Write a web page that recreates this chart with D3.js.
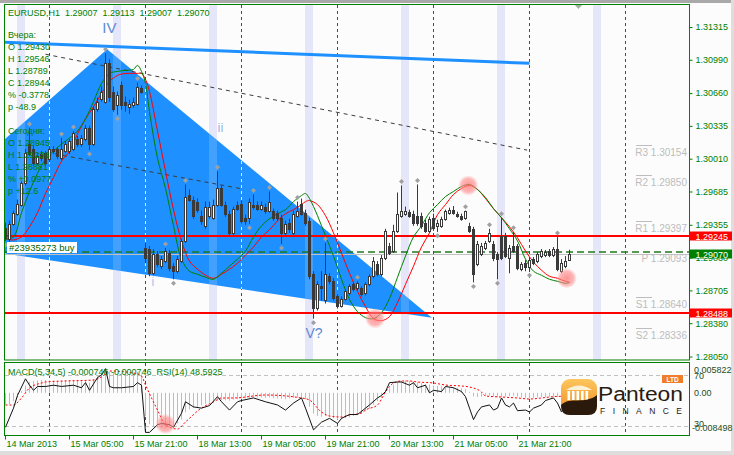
<!DOCTYPE html>
<html><head><meta charset="utf-8">
<script src="https://cdn.jsdelivr.net/npm/d3@7/dist/d3.min.js"></script>
<style>
html,body{margin:0;padding:0;background:#fcfcfc;}
svg{display:block;}
text{font-family:"Liberation Sans",Arial,sans-serif;}
</style></head><body>
<svg id="chart" width="734" height="455"></svg>
<script>
// ---------------- DATA ----------------
const opens=[1.2933,1.2922,1.2937,1.2947,1.2956,1.2977,1.3016,1.3011,1.2997,1.3006,
1.3007,1.3001,1.3011,1.3011,1.3002,1.3009,1.3009,1.3011,1.3021,1.3016,
1.3021,1.3032,1.3016,1.3051,1.3061,1.3058,1.3096,1.3068,1.3055,1.3075,
1.3058,1.3053,1.3055,1.3056,1.3072,1.2913,1.2912,1.2888,1.2907,1.2895,
1.2900,1.2908,1.2895,1.2890,1.2900,1.2920,1.2966,1.2961,1.2959,1.2945,
1.2935,1.2945,1.2943,1.2956,1.2972,1.2956,1.2947,1.2928,1.2956,1.2957,
1.2943,1.2943,1.2956,1.2956,1.2952,1.2954,1.2950,1.2950,1.2948,1.2943,
1.2928,1.2938,1.2928,1.2945,1.2957,1.2948,1.2940,1.2887,1.2854,1.2875,
1.2861,1.2885,1.2880,1.2865,1.2856,1.2862,1.2868,1.2877,1.2873,1.2873,
1.2868,1.2877,1.2885,1.2897,1.2887,1.2903,1.2915,1.2910,1.2930,1.2945,
1.2947,1.2949,1.2947,1.2945,1.2945,1.2938,1.2930,1.29430,1.2935,1.2935,
1.2942,1.2948,1.2951,1.2947,1.2945,1.2943,1.2935,1.2932,1.2897,1.2907,
1.2913,1.2920,1.2917,1.2907,1.2925,1.2925,1.2903,1.2915,1.2915,1.2892,
1.2898,1.28945,1.2902,1.2900,1.2905,1.2906,1.2910,1.2906,1.2912,1.2890,
1.2895,1.29007];
const highs=[1.2938,1.2940,1.2950,1.2961,1.2979,1.3011,1.3032,1.3014,1.3007,1.3009,
1.3009,1.3014,1.3014,1.3013,1.3022,1.3019,1.3021,1.3029,1.3024,1.3025,
1.3035,1.3034,1.3053,1.3062,1.3073,1.3106,1.3100,1.3073,1.3068,1.3078,
1.3063,1.3060,1.3062,1.3077,1.3074,1.2918,1.2915,1.2912,1.2910,1.2905,
1.2913,1.2911,1.2898,1.2905,1.2922,1.2976,1.2971,1.2964,1.2962,1.2950,
1.2959,1.2959,1.2961,1.2989,1.2975,1.2959,1.2950,1.2954,1.2959,1.2960,
1.2946,1.2962,1.2966,1.2959,1.2959,1.2957,1.2969,1.2952,1.2950,1.2946,
1.2940,1.2942,1.2950,1.2959,1.2962,1.2951,1.2943,1.2890,1.2880,1.2890,
1.2918,1.2888,1.2883,1.2868,1.2865,1.2872,1.2877,1.2879,1.2880,1.2875,
1.2879,1.2887,1.2904,1.2900,1.2906,1.2932,1.2918,1.2936,1.2968,1.2975,
1.2954,1.2951,1.2950,1.2976,1.2948,1.2941,1.2944,1.2947,1.2941,1.2944,
1.2951,1.2953,1.29546,1.2949,1.2947,1.2950,1.2938,1.2934,1.2920,1.2918,
1.2920,1.2932,1.2920,1.2909,1.2943,1.2928,1.2916,1.2929,1.2917,1.2899,
1.2901,1.2904,1.2904,1.2909,1.2912,1.2911,1.2912,1.2914,1.29238,1.2902,
1.2905,1.29113];
const lows=[1.2920,1.2919,1.2935,1.2945,1.2954,1.2975,1.3004,1.2994,1.2995,1.2999,
1.2994,1.2998,1.3006,1.3001,1.3000,1.3007,1.3006,1.3009,1.3013,1.3013,
1.3019,1.3010,1.3014,1.3048,1.3058,1.3056,1.3058,1.3048,1.3045,1.3050,
1.3048,1.3046,1.3052,1.3054,1.3066,1.2898,1.2885,1.2886,1.2894,1.2892,
1.2898,1.2890,1.2882,1.2888,1.2898,1.2918,1.2959,1.2942,1.2948,1.2936,
1.2932,1.2942,1.2941,1.2954,1.2954,1.2944,1.2925,1.2925,1.2950,1.2937,
1.2936,1.2937,1.2951,1.2950,1.2950,1.2947,1.2948,1.2940,1.2940,1.2917,
1.2925,1.2928,1.2926,1.2943,1.2945,1.2935,1.2882,1.2843,1.2851,1.2861,
1.2858,1.2877,1.2861,1.2853,1.2854,1.2861,1.2866,1.2870,1.2871,1.2865,
1.2866,1.2875,1.2883,1.2885,1.2885,1.2901,1.2906,1.2908,1.2928,1.2943,
1.2945,1.2943,1.2935,1.2935,1.2932,1.2928,1.2928,1.2930,1.2929,1.2933,
1.2940,1.2946,1.2946,1.2943,1.2940,1.2941,1.2928,1.28789,1.2895,1.2905,
1.2911,1.2918,1.2900,1.2882,1.2901,1.2903,1.2888,1.2908,1.2891,1.2890,
1.2890,1.2890,1.2896,1.2898,1.2903,1.2904,1.2904,1.2904,1.2890,1.28881,
1.2893,1.29007];
const closes=[1.2923,1.2937,1.2948,1.2957,1.2977,1.3007,1.3006,1.2997,1.3004,1.3002,
1.2997,1.3011,1.3009,1.3004,1.3011,1.3016,1.3019,1.3027,1.3016,1.3022,
1.3032,1.3016,1.3051,1.3058,1.3068,1.3096,1.3063,1.3051,1.3065,1.3055,
1.3055,1.3056,1.3058,1.3073,1.3068,1.2903,1.2888,1.2907,1.2897,1.2902,
1.2910,1.2893,1.2890,1.2902,1.2920,1.2964,1.2961,1.2945,1.2951,1.2940,
1.2954,1.2954,1.2956,1.2972,1.2956,1.2947,1.2928,1.2952,1.2952,1.2940,
1.2940,1.2959,1.2954,1.2952,1.2956,1.2950,1.2959,1.2943,1.2943,1.2928,
1.2937,1.2932,1.2947,1.2950,1.2947,1.2938,1.2885,1.2854,1.2877,1.2873,
1.2887,1.2880,1.2863,1.2856,1.2862,1.2870,1.2875,1.2872,1.2878,1.2867,
1.2877,1.2885,1.2900,1.2887,1.2903,1.2930,1.2908,1.2930,1.2947,1.2950,
1.2950,1.2945,1.2938,1.2938,1.2935,1.2930,1.2942,1.2933,1.2938,1.2942,
1.2950,1.2951,1.2948,1.2945,1.2942,1.2950,1.2930,1.2887,1.2917,1.2915,
1.2918,1.2928,1.2903,1.2902,1.2903,1.2905,1.2913,1.2910,1.2893,1.2897,
1.28944,1.2901,1.2898,1.2907,1.2910,1.2909,1.2906,1.2912,1.2892,1.2898,
1.2900,1.29070];

const upFractals=[6,14,17,25,33,40,45,53,62,66,73,80,88,99,103,115,121,124,127,138];
const downFractals=[0,21,28,42,61,69,77,108,117,123,131];

const maBars=[0,2,4,6,8,10,12,14,16,18,20,22,24,26,28,30,32,33,34,35,36,38,40,42,44,46,48,50,52,54,56,58,60,62,64,66,68,70,72,74,75,76,78,80,82,84,86,88,90,92,94,96,98,100,102,104,106,108,110,112,114,116,118,120,122,124,126,128,130,132,134,136,138,140,141];
const maGreen=[1.2922,1.2924,1.2948,1.2969,1.2987,1.3001,1.3009,1.3016,1.3022,1.3029,1.3041,1.3058,1.3076,1.3086,1.3088,1.3089,1.3090,
1.3094,1.3088,1.3076,
1.3048,1.3002,1.2972,1.2935,1.2902,1.2890,1.2887,1.2884,1.2882,1.2888,1.2895,1.2902,1.2910,1.2924,1.2935,1.2942,1.2947,1.2951,1.2959,1.2965,
1.2967,1.2962,
1.2945,1.2925,1.2905,1.2882,1.2862,1.2850,1.2844,1.2843,1.2849,1.2863,1.2884,1.2905,1.2924,1.2935,1.2948,1.2956,1.2964,1.2969,1.2974,1.2976,1.2971,1.2963,1.2952,1.2943,1.2932,1.2920,1.2902,1.2890,1.2886,1.2882,1.2880,1.2878,
1.2879];
const maRed=[1.2922,1.2921,1.2924,1.2934,1.2948,1.2967,1.2983,1.2999,1.3009,1.3026,1.3041,1.3053,1.3066,1.3078,1.3084,1.3086,1.3086,
1.3086,1.3086,1.3080,
1.3068,1.3029,1.2989,1.2951,1.2920,1.2900,1.2892,1.2886,1.2883,1.2887,1.2892,1.2898,1.2906,1.2914,1.2924,1.2931,1.2940,1.2947,1.2951,1.2956,
1.2959,1.2960,
1.2956,1.2945,1.2928,1.2908,1.2888,1.2870,1.2855,1.2843,1.2841,1.2845,1.2859,1.2877,1.2895,1.2914,1.2928,1.2946,1.2956,1.2966,1.2972,1.2975,1.2971,1.2962,1.2952,1.2943,1.2934,1.2923,1.2910,1.2899,1.2891,1.2885,1.2883,1.2880,
1.2879];

const macdHist=[-0.0026,-0.0024,-0.0018,-0.0010,0.0004,0.0016,0.0024,0.0026,0.0027,0.0028,
0.0028,0.0027,0.0027,0.0026,0.0027,0.0028,0.0027,0.0028,0.0028,0.0027,
0.0028,0.0022,0.0030,0.0036,0.0042,0.0048,0.0046,0.0044,0.0042,0.0043,
0.0042,0.0041,0.0042,0.0045,0.0040,-0.0050,-0.0068,-0.0074,-0.0076,-0.0077,
-0.0076,-0.0074,-0.0073,-0.0066,-0.0058,-0.0042,-0.0036,-0.0033,-0.0030,-0.0027,
-0.0024,-0.0021,-0.0019,-0.0017,-0.0016,-0.0016,-0.0017,-0.0015,-0.0014,-0.0013,
-0.0012,-0.0011,-0.0010,-0.0010,-0.0010,-0.0011,-0.0010,-0.0011,-0.0012,-0.0013,
-0.0014,-0.0012,-0.0011,-0.0010,-0.0011,-0.0014,-0.0030,-0.0045,-0.0050,-0.0052,
-0.0050,-0.0052,-0.0055,-0.0058,-0.0057,-0.0055,-0.0053,-0.0050,-0.0047,-0.0045,
-0.0040,-0.0034,-0.0026,-0.0018,-0.0010,0.0005,0.0010,0.0018,0.0024,0.0026,
0.0027,0.0026,0.0024,0.0023,0.0021,0.0019,0.0018,0.0016,0.0015,0.0014,
0.0013,0.0012,0.0012,0.0011,0.0010,0.0008,0.0002,-0.0008,-0.0009,-0.0008,
-0.0007,-0.0006,-0.0008,-0.0010,-0.0009,-0.0008,-0.0007,-0.0006,-0.0008,-0.0010,
-0.0011,-0.0012,-0.0011,-0.0010,-0.0009,-0.0009,-0.0008,-0.0008,-0.0009,-0.0008,
-0.0008,-0.00075];
const sigBars=[0,2,4,6,9,10,15,22,24,26,32,34,35,38,40,43,45,49,52,54,57,65,74,76,79,81,84,86,89,90,93,95,97,99,101,103,107,110,114,116,119,120,124,128,131,134,136,139,141];
const sigVals=[-0.00264,-0.00264,-0.00112,0.00105,0.00213,0.00235,0.00257,0.00278,0.00343,0.00474,0.00430,0.00365,0.00170,-0.00373,-0.00698,-0.00785,-0.00633,-0.00329,-0.00199,-0.00112,-0.00112,-0.00047,-0.00112,-0.00156,-0.00416,-0.00503,-0.00525,-0.00481,-0.00438,-0.00373,-0.00264,0.00018,0.00213,0.00257,0.00257,0.00235,0.00213,0.00170,0.00148,0.00126,0.00018,-0.00069,-0.00091,-0.00112,-0.00134,-0.00112,-0.00091,-0.00075,-0.000746];
const rsiBars=[0,2,3,5,6,7,8,10,12,14,17,19,20,21,23,24,25,26,27,29,32,33,34,35,36,38,39,41,42,44,45,47,49,51,53,54,56,58,59,62,65,68,70,72,74,75,77,79,81,83,84,86,88,90,91,93,94,95,96,98,99,101,102,103,105,106,107,109,110,112,114,115,116,117,118,119,121,122,123,124,125,126,127,128,130,131,132,134,135,137,138,139,140,141];
const rsiVals=[29,44,54,67,62,58,61,61,62,61,62,60,64,58,68,70,75,61,60,60,61,64,62,25,25,31,32,31,29,40,49,45,44,46,53,49,42.5,49,50,52,49,46.5,42.5,48,52,44,27,33,36,32,36,39,39,44,46.5,52,54,57,64,64.5,64.5,62,64,60,62,56,58,57,61,60,57,53,44,35,41,45,46.5,42.5,44,52,46.5,45,48,42,42.5,41,44,46.5,50,52,48,41,46.5,48.59];

const priceTicks=[1.31315,1.30990,1.30660,1.30335,1.30010,1.29685,1.29355,1.29030,1.28705,1.28380,1.28050];
const dateBars=[0,16,32,48,64,80,96,112,128];
const dateLabels=["14 Mar 2013","15 Mar 05:00","15 Mar 21:00","18 Mar 13:00","19 Mar 05:00","19 Mar 21:00","20 Mar 13:00","21 Mar 05:00","21 Mar 21:00"];
const separatorBars=[11,35,59,83,107,131,155];
const sessionBars=[3,27,51,75,99,123,147];
const pivotNames=["R3","R2","R1","S1","S2"];
const pivotLevels=[1.30154,1.29850,1.29397,1.28640,1.28336];
const pivotP=1.29093;
const redLevels=[1.29245,1.28488];
const bidPrice=1.29070;
const triangleBars=[-27.9,25.4,106.6];
const trianglePrices=[1.2924,1.3110,1.2844];
const blueLineBars=[-1,131];
const blueLinePrices=[1.3117,1.3096];
const dashLine1Bars=[10,130.4], dashLine1Prices=[1.3105,1.3010];
const dashLine2Bars=[12.4,58.6], dashLine2Prices=[1.30062,1.29720];
const circleBars=[115.7,92.4,140.3], circlePrices=[1.2975,1.28433,1.2883];
const rsiCircleBar=40, rsiCircleVal=31.5;
const waveLabels=[{t:"IV",bar:24.2,p:1.3126,s:15,c:"#5d8ad6"},{t:"ii",bar:53,p:1.3028,s:13,c:"#9ab6e6"},{t:"i",bar:36.5,p:1.2875,s:12,c:"#a9c2ea"},{t:"V?",bar:75,p:1.2824,s:14,c:"#5d8ad6"}];
const infoHeader="EURUSD,H1  1.29007  1.29113  1.29007  1.29070";
const infoYesterday=["Вчера:","O 1.29430","H 1.29546","L 1.28789","C 1.28944","% -0.3778","p -48.9"];
const infoToday=["Сегодня:","O 1.28945","H 1.29238","L 1.28881","% +0.0977","p +12.6"];
const orderLabel="#23935273 buy";
const macdTitle="MACD(5,34,5) -0.000746 -0.000746  RSI(14) 48.5925";
const macdMax=0.005822, macdMin=-0.008498;

// ---------------- SCALES ----------------
const svg=d3.select("#chart");
const defs=svg.append("defs");
const GREEN="#008000";
const x=d3.scaleLinear().domain([0,171]).range([5.5,689.5]);
const y=d3.scaleLinear().domain([1.28050,1.31315]).range([357,27.5]);
const yM=d3.scaleLinear().domain([macdMin,macdMax]).range([432,366]);
const yR=d3.scaleLinear().domain([30,70]).range([426,375]);
const hy=p=>Math.round(y(p))+0.5;

// background / frame
svg.append("rect").attr("width",734).attr("height",455).attr("fill","#fcfcfc");
svg.append("rect").attr("width",734).attr("height",3).attr("fill","#a9a9a9");
svg.append("rect").attr("x",731).attr("width",3).attr("height",455).attr("fill","#dedede");
svg.append("rect").attr("y",451).attr("width",734).attr("height",4).attr("fill","#dedede");

defs.append("clipPath").attr("id","mainClip").append("rect").attr("x",5).attr("y",5).attr("width",684).attr("height",355);
defs.append("clipPath").attr("id","macdClip").append("rect").attr("x",5).attr("y",363).attr("width",684).attr("height",72);
const triPts=triangleBars.map((b,k)=>[x(b),y(trianglePrices[k])]);
defs.append("clipPath").attr("id","triClip").append("polygon").attr("points",triPts.map(p=>p.join(",")).join(" "));

const rg=defs.append("radialGradient").attr("id","pink");
rg.append("stop").attr("offset","0%").attr("stop-color","#ff7070").attr("stop-opacity",0.75);
rg.append("stop").attr("offset","70%").attr("stop-color","#ff8a8a").attr("stop-opacity",0.6);
rg.append("stop").attr("offset","100%").attr("stop-color","#ffaaaa").attr("stop-opacity",0.1);

// ---------------- MAIN PANEL ----------------
const main=svg.append("g").attr("clip-path","url(#mainClip)");
const bandRect=(g,fill,op)=>g.selectAll(null).data(sessionBars).join("rect")
  .attr("x",d=>x(d)-0.5).attr("y",5).attr("width",d=>x(d+2)-x(d)).attr("height",355)
  .attr("fill",fill).attr("opacity",op);
bandRect(main,"#e6e6fa",1);
main.selectAll(null).data(separatorBars).join("line")
  .attr("x1",d=>x(d)).attr("x2",d=>x(d)).attr("y1",5).attr("y2",360)
  .attr("stroke",GREEN).attr("stroke-dasharray","3,3");
// triangle
main.append("polygon").attr("points",triPts.map(p=>p.join(",")).join(" ")).attr("fill","#1e90ff");
const triG=main.append("g").attr("clip-path","url(#triClip)");
bandRect(triG,"#ffffff",0.16);
triG.selectAll(null).data(separatorBars).join("line")
  .attr("x1",d=>x(d)).attr("x2",d=>x(d)).attr("y1",5).attr("y2",360)
  .attr("stroke","#ffff40").attr("stroke-dasharray","3,3");

// dashed trend lines
[[dashLine1Bars,dashLine1Prices],[dashLine2Bars,dashLine2Prices]].forEach(([b,p])=>{
  main.append("line").attr("x1",x(b[0])).attr("y1",y(p[0])).attr("x2",x(b[1])).attr("y2",y(p[1]))
    .attr("stroke","#3c3c3c").attr("stroke-dasharray","4,4");
});
// thick blue line
main.append("line").attr("x1",x(blueLineBars[0])).attr("y1",y(blueLinePrices[0]))
  .attr("x2",x(blueLineBars[1])).attr("y2",y(blueLinePrices[1]))
  .attr("stroke","#1e90ff").attr("stroke-width",3);

// pivots
pivotLevels.forEach((lv,k)=>{
  main.append("line").attr("x1",636).attr("x2",652).attr("y1",hy(lv)).attr("y2",hy(lv)).attr("stroke","#bdbdbd");
  main.append("text").attr("x",687).attr("y",y(lv)+11).attr("text-anchor","end")
    .attr("font-size",10).attr("fill","#bcbcbc").text(pivotNames[k]+" "+lv.toFixed(5));
});
main.append("text").attr("x",687).attr("y",y(pivotP)+10).attr("text-anchor","end")
  .attr("font-size",10).attr("fill","#bcbcbc").text("P "+pivotP.toFixed(5));

// red levels
redLevels.forEach(lv=>main.append("line").attr("x1",5).attr("x2",689).attr("y1",Math.round(y(lv))).attr("y2",Math.round(y(lv)))
  .attr("stroke","#ff0000").attr("stroke-width",2));
// bid line & order line
main.append("line").attr("x1",5).attr("x2",689).attr("y1",hy(bidPrice)).attr("y2",hy(bidPrice)).attr("stroke","#c0c0c0");
main.append("line").attr("x1",5).attr("x2",689).attr("y1",y(pivotP)+0.3).attr("y2",y(pivotP)+0.3)
  .attr("stroke","#1f7a1f").attr("stroke-width",1.5).attr("stroke-dasharray","7,4");

// moving averages
const maLine=d3.line().x(d=>x(d[0])).y(d=>y(d[1])).curve(d3.curveCatmullRom);
main.append("path").attr("d",maLine(d3.zip(maBars,maRed))).attr("fill","none").attr("stroke","#ff0000");
main.append("path").attr("d",maLine(d3.zip(maBars,maGreen))).attr("fill","none").attr("stroke","#008000");

// candles
const CDK="#3a3a3a";
const idx=d3.range(opens.length);
main.selectAll(".wick").data(idx).join("line")
  .attr("x1",i=>x(i)).attr("x2",i=>x(i)).attr("y1",i=>y(highs[i])).attr("y2",i=>y(lows[i]))
  .attr("stroke",CDK);
main.selectAll(".body").data(idx).join("rect")
  .attr("x",i=>x(i)-1)
  .attr("y",i=>Math.round(y(Math.max(opens[i],closes[i])))+0.5)
  .attr("width",2)
  .attr("height",i=>Math.max(1,Math.round(y(Math.min(opens[i],closes[i])))-Math.round(y(Math.max(opens[i],closes[i])))))
  .attr("fill",i=>closes[i]>=opens[i]?"#ffffff":CDK).attr("stroke",CDK);

// fractals
const dia=(cx,cy)=>`M${cx},${cy-2.5}L${cx+2.5},${cy}L${cx},${cy+2.5}L${cx-2.5},${cy}Z`;
main.selectAll(".fu").data(upFractals).join("path").attr("d",i=>dia(x(i),y(highs[i])-4)).attr("fill","#a0a0a0");
main.selectAll(".fd").data(downFractals).join("path").attr("d",i=>dia(x(i),y(lows[i])+4)).attr("fill","#a0a0a0");

// highlight circles
main.selectAll(".cc").data(circleBars).join("circle")
  .attr("cx",d=>x(d)).attr("cy",(d,k)=>y(circlePrices[k])).attr("r",10).attr("fill","url(#pink)");

// wave labels
waveLabels.forEach(w=>main.append("text").attr("x",x(w.bar)).attr("y",y(w.p)).attr("font-size",w.s)
  .attr("fill",w.c).text(w.t));

// info text
const infoG=main.append("g").attr("font-size",9).attr("fill",GREEN);
infoG.append("text").attr("x",8).attr("y",16).attr("xml:space","preserve").style("white-space","pre").text(infoHeader);
infoYesterday.forEach((t,k)=>infoG.append("text").attr("x",8).attr("y",38+k*12).text(t));
infoToday.forEach((t,k)=>infoG.append("text").attr("x",8).attr("y",134+k*12).text(t));
// order label
main.append("rect").attr("x",7).attr("y",242).attr("width",70).attr("height",11).attr("fill","#ffffff");
main.append("text").attr("x",9).attr("y",251).attr("font-size",9.5).attr("fill","#006400").text(orderLabel);

// chart shift marker
svg.append("polygon").attr("points","574,4 583,4 578.5,9").attr("fill","#9cb59c");

// main border
svg.append("rect").attr("x",4.5).attr("y",4.5).attr("width",685).attr("height",355.5)
  .attr("fill","none").attr("stroke",GREEN);

// right price axis
const ra=svg.append("g").attr("transform","translate(689.5,0)")
  .call(d3.axisRight(y).tickValues(priceTicks).tickFormat(d3.format(".5f")).tickSize(3).tickSizeOuter(0).offset(0));
ra.select(".domain").remove();
ra.selectAll("line").attr("stroke",GREEN);
ra.selectAll("text").attr("x",6).attr("font-size",9).attr("fill",GREEN).attr("font-family","Liberation Sans, Arial, sans-serif");

// price tags
const tag=(p,fill)=>{
  const cy=y(p);
  svg.append("rect").attr("x",690).attr("y",Math.round(cy)-4.5).attr("width",42).attr("height",9).attr("fill",fill);
  svg.append("text").attr("x",695.5).attr("y",Math.round(cy)+3.5).attr("font-size",9).attr("fill","#ffffff").text(p.toFixed(5));
};
redLevels.forEach(p=>tag(p,"#ff0000"));
tag(bidPrice,"#008000");

// ---------------- MACD / RSI PANEL ----------------
const sub=svg.append("g").attr("clip-path","url(#macdClip)");
sub.selectAll(null).data(separatorBars).join("line")
  .attr("x1",d=>x(d)).attr("x2",d=>x(d)).attr("y1",363).attr("y2",435)
  .attr("stroke",GREEN).attr("stroke-dasharray","3,3");
[70,30].forEach(v=>sub.append("line").attr("x1",5).attr("x2",689).attr("y1",Math.round(yR(v))+0.5).attr("y2",Math.round(yR(v))+0.5)
  .attr("stroke","#c0c0c0").attr("stroke-dasharray","4,3"));
sub.selectAll(".h").data(macdHist).join("line")
  .attr("x1",(d,i)=>x(i)).attr("x2",(d,i)=>x(i)).attr("y1",yM(0)).attr("y2",d=>yM(d))
  .attr("stroke","#bdbdbd");
sub.append("path").attr("d",d3.line().x(d=>x(d[0])).y(d=>yM(d[1])).curve(d3.curveMonotoneX)(d3.zip(sigBars,sigVals)))
  .attr("fill","none").attr("stroke","#ff0000").attr("stroke-dasharray","2,2");
sub.append("path").attr("d",d3.line().x(d=>x(d[0])).y(d=>yR(d[1]))(d3.zip(rsiBars,rsiVals)))
  .attr("fill","none").attr("stroke","#111111");
sub.append("circle").attr("cx",x(rsiCircleBar)).attr("cy",yR(rsiCircleVal)).attr("r",10).attr("fill","url(#pink)");
sub.append("text").attr("x",8).attr("y",375).attr("font-size",9).attr("fill",GREEN).attr("xml:space","preserve").style("white-space","pre").text(macdTitle);

svg.append("rect").attr("x",4.5).attr("y",362.5).attr("width",685).attr("height",73)
  .attr("fill","none").attr("stroke",GREEN);

// MACD right labels
const mlab=[[macdMax.toFixed(6),yM(macdMax)+7,694],["70",yR(70)+3.5,694],["0.00",yM(0)+3.5,694],["30",yR(30)+1,694],[macdMin.toFixed(6),yM(macdMin)-1,692]];
mlab.forEach(([t,yy,xx])=>svg.append("text").attr("x",xx).attr("y",yy).attr("font-size",9).attr("fill","#1d4d1d").text(t));

// date axis
const da=svg.append("g").attr("transform","translate(0,435.5)")
  .call(d3.axisBottom(x).tickValues(dateBars).tickFormat((d,i)=>dateLabels[i]).tickSize(4).tickSizeOuter(0).offset(0));
da.select(".domain").remove();
da.selectAll("line").attr("stroke",GREEN);
da.selectAll("text").attr("text-anchor","start").attr("x",1).attr("y",11.5).attr("dy",0)
  .attr("font-size",9).attr("fill",GREEN).attr("font-family","Liberation Sans, Arial, sans-serif");

// ---------------- LOGO ----------------
const og=defs.append("linearGradient").attr("id","og").attr("x1",0).attr("y1",0).attr("x2",0).attr("y2",1);
og.append("stop").attr("offset","0%").attr("stop-color","#fcc65c");
og.append("stop").attr("offset","100%").attr("stop-color","#f08a22");
const logo=svg.append("g");
logo.append("rect").attr("x",561).attr("y",379).attr("width",36).attr("height",36).attr("rx",9).attr("fill","url(#og)");
logo.append("path").attr("d","M566,390 Q579,381 592,390 Z").attr("fill","#fff1d6");
[567.5,572,576.5,581,585.5].forEach(cx=>logo.append("rect").attr("x",cx).attr("y",391).attr("width",2.6).attr("height",9).attr("fill","#ffffff"));
logo.append("path").attr("d","M561,405 C570,396 585,405 597,395 L597,406 Q597,415 588,415 L570,415 Q561,415 561,406 Z").attr("fill","#2b1a0c");
logo.append("text").attr("x",598).attr("y",401).attr("font-size",20).attr("font-family","Open Sans, sans-serif")
  .attr("fill","#2a1b10").attr("textLength",85).attr("lengthAdjust","spacingAndGlyphs").text("Panteon");
logo.append("text").attr("x",600).attr("y",414).attr("font-size",8.5).attr("font-family","Open Sans, sans-serif")
  .attr("fill","#2a1b10").attr("textLength",82).attr("lengthAdjust","spacing").text("FINANCE");
logo.append("rect").attr("x",662).attr("y",375).attr("width",21).attr("height",8).attr("fill","#f07d2c");
logo.append("text").attr("x",672.5).attr("y",381.6).attr("text-anchor","middle").attr("font-size",6.5).attr("font-weight","bold")
  .attr("fill","#ffffff").text("LTD");
</script>
</body></html>
